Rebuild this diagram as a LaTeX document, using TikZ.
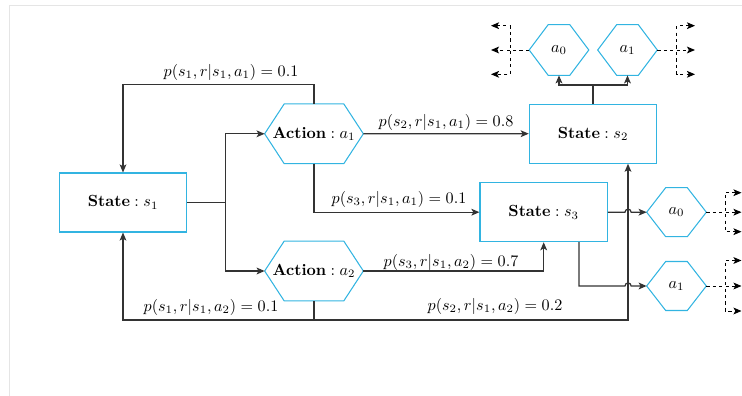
\documentclass[tikz,border=0pt]{standalone}
\usetikzlibrary{arrows.meta,calc}
\definecolor{boxc}{RGB}{50,180,225}
\definecolor{linec}{RGB}{51,51,51}
\definecolor{framec}{RGB}{229,229,229}
\tikzset{
  tip/.style={-{Stealth[length=5pt,width=4.2pt,inset=1.2pt]}},
  tips/.style={{Stealth[length=5pt,width=4.2pt,inset=1.2pt]}-{Stealth[length=5pt,width=4.2pt,inset=1.2pt]}},
  plain/.style={draw=linec, line width=0.75pt},
  conn/.style={plain, tip},
  dashc/.style={draw=black, line width=0.6pt, dash pattern=on 2pt off 2pt},
  statebox/.style={draw=boxc, line width=0.65pt, fill=white,
    minimum width=79pt, minimum height=36.6pt, inner sep=0pt},
  acthex/.style={minimum width=60.8pt, minimum height=36.6pt, inner sep=0pt},
  tophex/.style={minimum width=36.6pt, minimum height=31pt, inner sep=0pt},
  sidehex/.style={minimum width=36.6pt, minimum height=30pt, inner sep=0pt},
  hexline/.style={draw=boxc, line width=0.65pt},
  lab/.style={inner sep=0pt},
}
% hexagon outline around a rectangular node: #1 node name, #2 corner inset
\newcommand{\hexoutline}[2]{%
  \draw[hexline] (#1.west) -- ([xshift=#2]#1.north west) -- ([xshift=-#2]#1.north east)
    -- (#1.east) -- ([xshift=-#2]#1.south east) -- ([xshift=#2]#1.south west) -- cycle;}
\begin{document}
\begin{tikzpicture}[x=0.62pt, y=-0.62pt]
\useasboundingbox (0,0) rectangle (742,396);
\draw[framec, line width=0.8pt] (9.5,396) -- (9.5,5.3) -- (742,5.3);

% states
\node[statebox] (s1) at (123,202.5) {$\textbf{State}:s_1$};
\node[statebox] (s2) at (593,133.7) {$\textbf{State}:s_2$};
\node[statebox] (s3) at (543.7,212.2) {$\textbf{State}:s_3$};

% actions
\node[acthex] (a1) at (314,133.8) {$\textbf{Action}:a_1$};
\node[acthex] (a2) at (314,271) {$\textbf{Action}:a_2$};
\hexoutline{a1}{12.1pt}
\hexoutline{a2}{12.1pt}

% follow-up actions
\node[tophex] (t0) at (559,50) {$a_0$};
\node[tophex] (t1) at (627.5,50) {$a_1$};
\node[sidehex] (r0) at (676.5,212.2) {$a_0$};
\node[sidehex] (r1) at (676.5,286) {$a_1$};
\foreach \h in {t0,t1,r0,r1} {\hexoutline{\h}{11.8pt}}

% routing helpers
\coordinate (split) at (225.7,0);
\coordinate (topy) at (0,84.3);
\coordinate (boty) at (0,320);
\coordinate (vx) at (628,0);
\coordinate (jy) at (0,85);

% s1 to both actions
\draw[plain] (s1.east) -- (split |- s1.east);
\draw[conn] (split |- s1.east) |- (a1.west);
\draw[conn] (split |- s1.east) |- (a2.west);

% transitions of action a1
\draw[conn] (a1.north) -- (a1.north |- topy) -| (s1.north);
\draw[conn] (a1.east) -- (s2.west);
\draw[conn] (a1.south) |- (s3.west);

% transitions of action a2
\draw[conn] (a2.east) -| (s3.south);
\draw[conn] (a2.south) -- (a2.south |- boty) -| (s1.south);
\draw[conn] (a2.south |- boty) -| (vx |- s2.south);

% s2 to its actions
\draw[conn] (s2.north) -- (s2.north |- jy) -| (t0.south);
\draw[conn] (s2.north |- jy) -| (t1.south);

% s3 to its actions, hopping over the vertical line
\draw[conn] (s3.east) -- ($(vx |- s3.east)+(-3,0)$)
  arc[start angle=180, end angle=0, radius=1.9pt] -- (r0.west);
\coordinate (s3out) at ($(s3.south east)+(-29,0)$);
\draw[conn] (s3out) -- (s3out |- r1.west) -- ($(vx |- r1.west)+(-3,0)$)
  arc[start angle=180, end angle=0, radius=1.9pt] -- (r1.west);

% probability labels
\node[lab] (l1) at (231,72) {$p(s_1,r|s_1,a_1)=0.1$};
\node[lab] (l2) at (446,122) {$p(s_2,r|s_1,a_1)=0.8$};
\node[lab] (l3) at (399,199) {$p(s_3,r|s_1,a_1)=0.1$};
\node[lab] (l4) at (451,262) {$p(s_3,r|s_1,a_2)=0.7$};
\node[lab] (l5) at (211,307) {$p(s_1,r|s_1,a_2)=0.1$};
\node[lab] (l6) at (495,306) {$p(s_2,r|s_1,a_2)=0.2$};

% dashed continuations: a straight arrow plus a forked pair
\coordinate (tb0) at (510,0);
\coordinate (tb0a) at (491,25.7);
\coordinate (tb0b) at (491,50);
\coordinate (tb0c) at (491,74.3);
\draw[dashc, tip] (t0.west) -- (tb0b);
\draw[dashc, tips] (tb0a) -- (tb0 |- tb0a) -- (tb0 |- tb0c) -- (tb0c);

\coordinate (tb1) at (676.7,0);
\coordinate (tb1a) at (695,25.7);
\coordinate (tb1b) at (695,50);
\coordinate (tb1c) at (695,74.3);
\draw[dashc, tip] (t1.east) -- (tb1b);
\draw[dashc, tips] (tb1a) -- (tb1 |- tb1a) -- (tb1 |- tb1c) -- (tb1c);

\coordinate (rb0) at (725,0);
\coordinate (rb0a) at (741.5,192.7);
\coordinate (rb0b) at (741.5,212.2);
\coordinate (rb0c) at (741.5,231.7);
\draw[dashc, tip] (r0.east) -- (rb0b);
\draw[dashc, tips] (rb0a) -- (rb0 |- rb0a) -- (rb0 |- rb0c) -- (rb0c);

\coordinate (rb1) at (725,0);
\coordinate (rb1a) at (741.5,260.5);
\coordinate (rb1b) at (741.5,286);
\coordinate (rb1c) at (741.5,311);
\draw[dashc, tip] (r1.east) -- (rb1b);
\draw[dashc, tips] (rb1a) -- (rb1 |- rb1a) -- (rb1 |- rb1c) -- (rb1c);
\end{tikzpicture}
\end{document}
